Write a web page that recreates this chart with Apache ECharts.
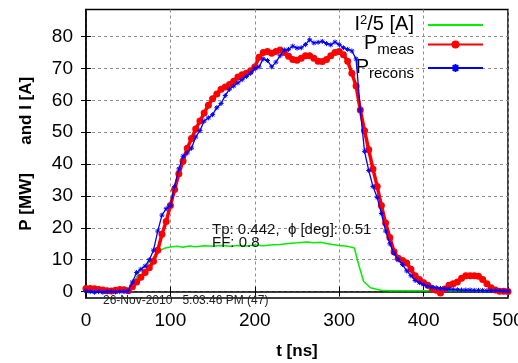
<!DOCTYPE html>
<html><head><meta charset="utf-8">
<script src="https://cdn.jsdelivr.net/npm/echarts@6/dist/echarts.min.js"></script>
<style>html,body{margin:0;padding:0;background:#fff}#c{width:518px;height:363px}</style>
</head><body><div id="c"></div>
<script>
// time axis samples (ns) shared by measured and reconstructed power
const tSamples = [0,5,10,15,20,25,30,35,40,45,50,55,60,65,70,75,80,85,90,95,100,105,110,115,120,125,130,135,140,145,150,155,160,165,170,175,180,185,190,195,200,205,210,215,220,225,230,235,240,245,250,255,260,265,270,275,280,285,290,295,300,305,310,315,320,325,330,335,340,345,350,355,360,365,370,375,380,385,390,395,400,405,410,415,420,425,430,435,440,445,450,455,460,465,470,475,480,485,490,495,500];
// P_meas [MW]
const pMeas = [1.0,1.0,0.9,0.7,0.5,0.3,0.2,0.4,0.7,0.6,0.3,1.5,3.0,4.5,6.0,7.5,9.5,13,18,22,27,32,37,41,45,48,51,53.5,56,58.5,60.5,62,63.5,64.2,65,66,67.3,68,68.5,69.3,70.5,73.5,75,75.3,74.8,75.3,75.8,75,73.8,72.8,72.6,73.2,74,74,73.2,72.3,72.2,72.8,74,75,75.3,74.3,72.3,68.5,64.5,57,50.5,44.5,38.5,33,27,21.5,17,12.5,10.5,9.8,9,7,5,3.8,2.8,2,1,0.4,-0.4,0.8,2,2.5,3,4.2,5,5,5,4.8,3.8,2.5,1.2,0.5,0.1,0.1,0];
// P_recons [MW]
const pRecons = [0.2,0,-0.2,0,-0.2,0,0.1,-0.1,0,0,0.2,3,6,7,8,10,13,19,24,26,27,33,38.5,42.5,43.5,45,48.5,50.5,53.5,54.5,55.5,57.7,59,61.5,63.5,64.5,65.5,66.5,67.5,68.5,70,70.5,73,72.5,70.5,72,74,75.8,76,77,76.4,76.5,77.5,79,78,78.2,78.5,77.8,77.4,78.3,77.5,76.5,76,75.5,73,57,44,38,33,29.5,24.5,19,15,12,10,8.5,6.5,5,3.5,2.8,2.2,1.7,1.4,1.2,1,0.9,0.8,0.7,0.6,0.5,0.5,0.5,0.4,0.4,0.4,0.3,0.3,0.3,0.3,0.2,0.2];
// I^2/5 [A]
const tCurrent = [0,10,20,30,40,50,55,60,64,70,78,86,94,100,108,115,122,130,140,150,160,171,180,190,200,210,222,230,240,250,262,270,278,285,292,300,310,318,323,329,337,349,360,380,400,420,450,480,500];
const iSq5 = [0.3,0.3,0.3,0.3,0.3,0.5,2,4.5,6.9,8,10,12.8,13.7,14,14.2,13.9,14.3,14.1,14.4,14.2,14.5,14.2,14.5,14.3,14.6,14.4,14.7,14.8,15.1,15.3,15.6,15.3,15.5,15.1,14.8,14.5,14.2,13.7,8.5,3.2,1.2,0.4,0.3,0.3,0.3,0.3,0.3,0.3,0.3];
const yTicks = [0,10,20,30,40,50,60,70,80];
const seriesNames = ['I2/5', 'Pmeas', 'Precons'];

const pair = (ts, vs) => ts.map((t, i) => [t, vs[i]]);
const FONT = '"Liberation Sans", Arial, Helvetica, sans-serif';
const chart = echarts.init(document.getElementById('c'), null, {renderer: 'canvas'});
const gridLine = {show: true, lineStyle: {color: '#8f8f8f', type: [3, 3], width: 1}};
const asterisk = 'path://M0,5L10,5M5,0L5,10M1.5,1.5L8.5,8.5M8.5,1.5L1.5,8.5';

chart.setOption({
  animation: false,
  backgroundColor: '#fff',
  grid: {left: 86, right: 10, top: 9.5, bottom: 65, show: true, borderColor: '#000', borderWidth: 1.5,
         containLabel: false, outerBoundsMode: 'none'},
  xAxis: [{
    type: 'value', min: 0, max: 500, interval: 100,
    name: 't [ns]', nameLocation: 'middle', nameGap: 45,
    nameTextStyle: {fontFamily: FONT, fontSize: 17, fontWeight: 'bold', color: '#000'},
    axisLine: {show: true, lineStyle: {color: '#000', width: 1.5}},
    axisTick: {show: true, inside: true, length: 5, lineStyle: {color: '#000'}},
    axisLabel: {fontFamily: FONT, fontSize: 19, color: '#000', margin: 13},
    splitLine: gridLine
  }, {
    type: 'value', position: 'top', min: 0, max: 500, interval: 100,
    axisLine: {show: false}, axisLabel: {show: false}, splitLine: {show: false},
    axisTick: {show: true, inside: true, length: 5, lineStyle: {color: '#000'}}
  }],
  yAxis: [{
    type: 'value', min: -2, max: 88.5,
    name: 'P [MW]      and I [A]', nameLocation: 'middle', nameGap: 51,
    nameTextStyle: {fontFamily: FONT, fontSize: 17, fontWeight: 'bold', color: '#000'},
    axisLine: {show: true, lineStyle: {color: '#000', width: 1.5}},
    axisTick: {show: true, inside: true, length: 5, customValues: yTicks, lineStyle: {color: '#000'}},
    axisLabel: {fontFamily: FONT, fontSize: 19, color: '#000', margin: 13, customValues: yTicks},
    splitLine: gridLine
  }, {
    type: 'value', position: 'right', min: -2, max: 88.5,
    axisLine: {show: false}, axisLabel: {show: false}, splitLine: {show: false},
    axisTick: {show: true, inside: true, length: 5, customValues: yTicks, lineStyle: {color: '#000'}}
  }],
  legend: {
    orient: 'vertical', right: 29, top: 9, align: 'right',
    itemWidth: 55, itemHeight: 10, itemGap: -2.5,
    data: [
      {name: 'I2/5', icon: 'path://M0,0H55V2H0Z'},
      {name: 'Pmeas'},
      {name: 'Precons'}
    ],
    formatter: function (name) {
      if (name === 'I2/5') return '{b|I}{sup|2}{b|/5 [A]}{e| }';
      if (name === 'Pmeas') return '{b|P}{sub|meas}{e| }';
      return '{b|P}{sub|recons}{e| }';
    },
    textStyle: {
      fontFamily: FONT, color: '#000',
      rich: {
        b: {fontFamily: FONT, fontSize: 20, lineHeight: 22, verticalAlign: 'top', color: '#000'},
        sup: {fontFamily: FONT, fontSize: 13, lineHeight: 13, verticalAlign: 'top', color: '#000'},
        sub: {fontFamily: FONT, fontSize: 15, lineHeight: 17, padding: [11, 0, 0, 0], color: '#000'},
        e: {fontSize: 10, width: 9}
      }
    }
  },
  graphic: [
    {type: 'text', left: 212, top: 222, z: 100, style: {text: 'Tp: 0.442,  \u03d5 [deg]: 0.51', font: '15px ' + FONT, fill: '#111'}},
    {type: 'text', left: 212, top: 235, z: 100, style: {text: 'FF: 0.8', font: '15px ' + FONT, fill: '#111'}},
    {type: 'text', left: 103, top: 295, z: 100, style: {text: '26-Nov-2010   5:03:46 PM (47)', font: '12px ' + FONT, fill: '#222'}}
  ],
  series: [
    {name: 'I2/5', type: 'line', data: pair(tCurrent, iSq5), showSymbol: false, symbol: 'none',
     lineStyle: {color: '#00ee00', width: 1.5}, itemStyle: {color: '#00ee00'}, z: 2},
    {name: 'Pmeas', type: 'line', data: pair(tSamples, pMeas), symbol: 'circle', symbolSize: 7,
     lineStyle: {color: '#ff0000', width: 3.5}, itemStyle: {color: '#ff0000'}, z: 3},
    {name: 'Precons', type: 'line', data: pair(tSamples, pRecons), symbol: asterisk, symbolSize: 5,
     lineStyle: {color: '#0000ff', width: 1.3}, itemStyle: {color: '#0000ff', borderColor: '#0000ff', borderWidth: 1}, z: 4}
  ]
});
</script></body></html>
